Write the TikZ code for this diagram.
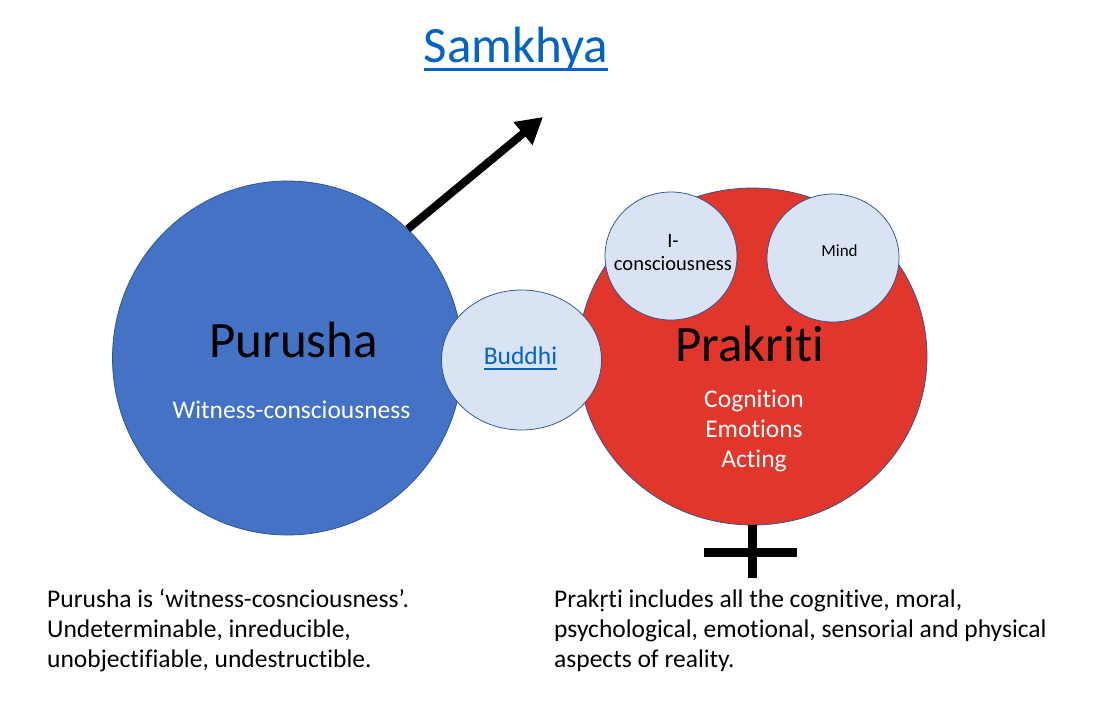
\documentclass[tikz,border=0pt]{standalone}
\usepackage{fontspec}
\setmainfont{Carlito}[Ligatures=NoCommon]
\usetikzlibrary{shapes.geometric,arrows.meta}
\definecolor{purushablue}{HTML}{4472C4}
\definecolor{prakritired}{HTML}{E0362B}
\definecolor{paleblue}{HTML}{DAE3F3}
\definecolor{rimblue}{HTML}{2F528F}
\definecolor{linkblue}{HTML}{0563C1}

\begin{document}
\begin{tikzpicture}[x=1pt, y=-1pt,
	blob/.style={ellipse, draw=rimblue, line width=0.75pt, inner sep=0pt},
	sub/.style={blob, fill=paleblue, minimum width=132pt, minimum height=128pt},
	lbl/.style={inner sep=0pt, anchor=base},
	bar/.style={line width=9pt}]
	\useasboundingbox (0,0) rectangle (1094,715);
	\coordinate (tip) at (543,117);
	\node[blob, fill=purushablue, minimum width=350pt, minimum height=354pt] (purusha) at (287.5,358) {};
	\draw[line width=8pt, -{Triangle[length=26pt,width=28pt]}] (purusha.47) -- (tip);
	\node[blob, fill=prakritired, minimum width=349pt, minimum height=337pt] (prakriti) at (752.5,356.5) {};
	\node[blob, fill=paleblue, minimum width=160pt, minimum height=140pt] (buddhi) at (521.5,360) {};
	\node[sub] (ego) at (671,256) {};
	\node[sub] (mind) at (833,258) {};
	\draw[bar] (prakriti.south) -- ++(0,53) coordinate (foot);
	\draw[bar] (704,552) coordinate (armleft) -- (797,552) coordinate (armright);
	\node[lbl, text=linkblue, font=\fontsize{51}{61}\selectfont] (samkhya) at (516,62) {Samkhya};
	\draw[linkblue, line width=3pt] ([yshift=-7pt]samkhya.base west) -- ([yshift=-7pt]samkhya.base east);
	\node[lbl, font=\fontsize{51}{61}\selectfont] (purushatext) at (293.5,357) {Purusha};
	\node[lbl, text=white, font=\fontsize{25.5}{30}\selectfont] (witness) at (291.5,418) {Witness-consciousness};
	\node[lbl, text=linkblue, font=\fontsize{25.5}{30}\selectfont] (buddhitext) at (520.5,364) {Buddhi};
	\draw[linkblue, line width=1.5pt] ([yshift=-5pt]buddhitext.base west) -- ([yshift=-5pt]buddhitext.base east);
	\node[lbl, font=\fontsize{51}{61}\selectfont] (prakrititext) at (749.5,361) {Prakriti};
	\node[lbl, text=white, align=center, font=\fontsize{25.5}{30}\selectfont] (faculties) at (754,467) {Cognition\\Emotions\\Acting};
	\node[lbl, align=center, font=\fontsize{20.5}{23}\selectfont] (egotext) at (673,270) {I-\\consciousness};
	\node[lbl, font=\fontsize{17}{20}\selectfont] (mindtext) at (839.5,256) {Mind};
	\node[lbl, anchor=base west, align=left, font=\fontsize{25.5}{30}\selectfont] (purushanote) at (47,667)
		{Purusha is ‘witness-cosnciousness’.\\Undeterminable, inreducible,\\unobjectifiable, undestructible.};
	\node[lbl, anchor=base west, align=left, font=\fontsize{25.5}{30}\selectfont] (prakritinote) at (554,667)
		{Prakṛti includes all the cognitive, moral,\\psychological, emotional, sensorial and physical\\aspects of reality.};
\end{tikzpicture}
\end{document}
